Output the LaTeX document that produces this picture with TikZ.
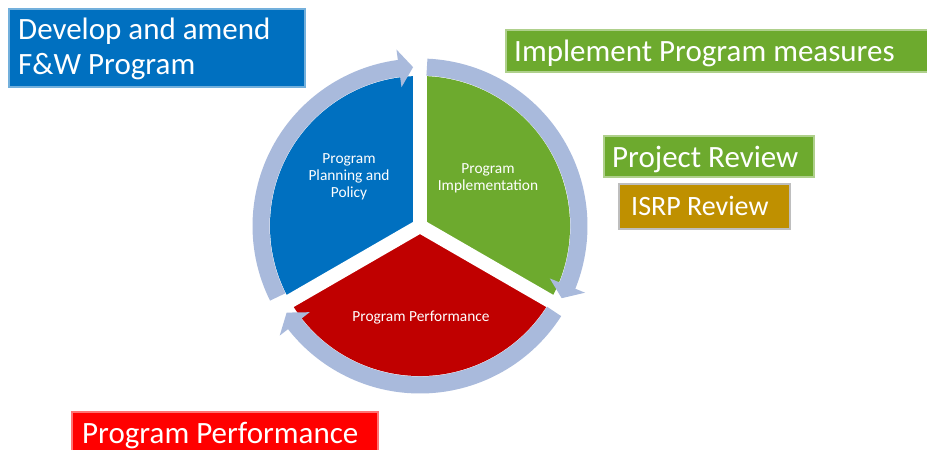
\documentclass[tikz,border=0pt]{standalone}
\usepackage{fontspec}
\setmainfont{Carlito}
\definecolor{ringc}{RGB}{169,186,220}
\definecolor{secblue}{RGB}{0,112,192}
\definecolor{secgreen}{RGB}{109,170,46}
\definecolor{secred}{RGB}{192,0,0}
\definecolor{labred}{RGB}{255,0,0}
\definecolor{labgold}{RGB}{191,144,0}
\definecolor{labborder}{RGB}{190,190,190}
\begin{document}
\begin{tikzpicture}[x=1pt,y=1pt,
  bigtxt/.style={font=\fontsize{31}{35}\selectfont, text=white, inner sep=0pt},
  midtxt/.style={font=\fontsize{28}{34}\selectfont, text=white, inner sep=0pt},
  smalltxt/.style={font=\fontsize{15.4}{16.8}\selectfont, text=white, inner sep=0pt, align=center},
  ringarc/.style={draw=ringc, line width=17pt, line cap=butt},
  headtri/.style={fill=ringc},
  gapline/.style={draw=white, line width=14pt, line cap=butt},
  glow/.style={draw=#1!55!white, line width=1.5pt}]
\useasboundingbox (0,0) rectangle (927,-450);
\fill[white] (0,0) rectangle (927,-450);

% label boxes
\filldraw[fill=secblue, glow=secblue] (9,-9) rectangle (305,-87);
\node[bigtxt, anchor=base west] (dev1) at (18,-39) {Develop and amend};
\node[bigtxt, anchor=base west] (dev2) at (18,-74) {F\&W Program};

\filldraw[fill=secgreen, glow=secgreen] (506,-30) rectangle (930,-72);
\node[bigtxt, anchor=base west] (impl) at (514,-61) {Implement Program measures};

\filldraw[fill=secgreen, glow=secgreen] (604,-136) rectangle (814,-177);
\node[bigtxt, anchor=base west] (proj) at (612,-167) {Project Review};

\filldraw[fill=labgold, draw=labborder, line width=1.5pt] (619,-184) rectangle (790,-229);
\node[midtxt, anchor=base west] (isrp) at (631,-215) {ISRP Review};

\filldraw[fill=labred, glow=labred] (72,-412) rectangle (378,-455);
\node[bigtxt, anchor=base west] (perf) at (82,-443) {Program Performance};

% cycle
\begin{scope}[shift={(420,-226)}]
  \fill[secblue] (0,0) -- (90:150) arc[start angle=90, end angle=210, radius=150] -- cycle;
  \fill[secgreen] (0,0) -- (-30:150) arc[start angle=-30, end angle=90, radius=150] -- cycle;
  \fill[secred] (0,0) -- (210:150) arc[start angle=210, end angle=330, radius=150] -- cycle;
  \draw[gapline] (0,0) -- (90:152);
  \draw[gapline] (0,0) -- (210:152);
  \draw[gapline] (0,0) -- (330:152);

  % ring arrows
  \draw[ringarc] (206.5:159) arc[start angle=206.5, end angle=97, radius=159];
  \fill[headtri] (97.6:140) -- (92.5:159) -- (97.6:178) -- cycle;
  \draw[ringarc] (87.5:159) arc[start angle=87.5, end angle=-22.5, radius=159];
  \fill[headtri] (-22:140) -- (-27:159) -- (-22:178) -- cycle;
  \draw[ringarc] (-32.5:159) arc[start angle=-32.5, end angle=-142.5, radius=159];
  \fill[headtri] (-142:140) -- (-147:159) -- (-142:178) -- cycle;
\end{scope}

\node[smalltxt] (plan) at (349,-177) {Program\\Planning and\\Policy};
\node[smalltxt] (implin) at (488,-178) {Program\\Implementation};
\node[smalltxt, anchor=base] (perfin) at (421,-321) {Program Performance};
\end{tikzpicture}
\end{document}
